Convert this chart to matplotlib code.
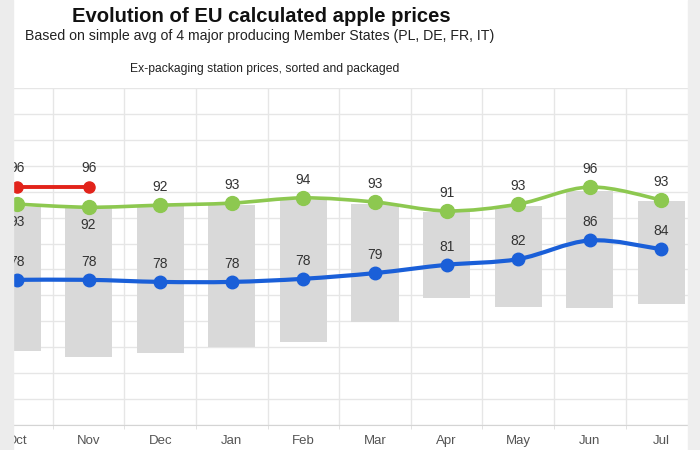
import numpy as np
import matplotlib.pyplot as plt
from matplotlib.path import Path
from matplotlib.patches import PathPatch, Rectangle
from matplotlib.ticker import MultipleLocator

plt.rcParams['font.family'] = ['Liberation Sans', 'DejaVu Sans']

months = ['Oct', 'Nov', 'Dec', 'Jan', 'Feb', 'Mar', 'Apr', 'May', 'Jun', 'Jul']
# ex-packaging price range (grey bars)
range_low = [64.3, 63.1, 63.9, 65.1, 66.0, 69.9, 74.5, 72.8, 72.6, 73.4]
range_high = [92.0, 91.8, 92.2, 92.4, 93.4, 92.6, 91.0, 92.3, 95.2, 93.2]
# calculated prices
green_prices = [92.6, 92.0, 92.4, 92.8, 93.8, 93.0, 91.3, 92.6, 95.9, 93.4]
blue_prices = [78.0, 78.0, 77.6, 77.6, 78.2, 79.3, 80.9, 82.0, 85.6, 83.9]
red_prices = [96.0, 96.0]

GREEN = '#8dc850'
BLUE = '#1a5fd8'
RED = '#e2231a'


def smooth_path(x, y):
    """Excel-style smoothed line as a cubic bezier path"""
    pts = np.column_stack([x, y]).astype(float)
    n = len(pts)
    verts = [pts[0]]
    codes = [Path.MOVETO]
    for i in range(n - 1):
        p0 = pts[max(i - 1, 0)]
        p1 = pts[i]
        p2 = pts[i + 1]
        p3 = pts[min(i + 2, n - 1)]
        c1 = p1 + (p2 - p0) / 6.0
        c2 = p2 - (p3 - p1) / 6.0
        verts += [c1, c2, p2]
        codes += [Path.CURVE4] * 3
    return Path(verts, codes)


fig = plt.figure(figsize=(7, 4.5), dpi=100)
W, H = 700.0, 450.0
x0_px, x1_px, y_top, y_bot = 13, 688, 88, 425
step = 71.6
ax = fig.add_axes([x0_px / W, 1 - y_bot / H, (x1_px - x0_px) / W, (y_bot - y_top) / H])

x = np.arange(len(months))
ax.set_xlim(-(17 - x0_px) / step, (x1_px - 17) / step)
ax.set_ylim(50, 115)

bottoms = np.array(range_low)
heights = np.array(range_high) - bottoms
ax.bar(x, heights, bottom=bottoms, width=0.66, color='#d9d9d9', zorder=1)

ax.add_patch(PathPatch(smooth_path(x, green_prices), fill=False, edgecolor=GREEN, lw=2.6, zorder=3))
ax.plot(x, green_prices, 'o', color=GREEN, ms=10, zorder=4)
ax.add_patch(PathPatch(smooth_path(x, blue_prices), fill=False, edgecolor=BLUE, lw=3, zorder=3))
ax.plot(x, blue_prices, 'o', color=BLUE, ms=9, zorder=4)
ax.plot(x[:len(red_prices)], red_prices, '-o', color=RED, lw=2.8, ms=8, zorder=4)

lab = dict(ha='center', fontsize=10, color='#333333', zorder=5)
for i, v in enumerate(green_prices):
    if i < len(red_prices):
        ax.annotate(f'{v:.0f}', (x[i], v), xytext=(0, -8), textcoords='offset points', va='top', **lab)
    else:
        ax.annotate(f'{v:.0f}', (x[i], v), xytext=(0, 8), textcoords='offset points', va='bottom', **lab)
for i, v in enumerate(blue_prices):
    ax.annotate(f'{v:.0f}', (x[i], v), xytext=(0, 8), textcoords='offset points', va='bottom', **lab)
for i, v in enumerate(red_prices):
    ax.annotate(f'{v:.0f}', (x[i], v), xytext=(0, 8), textcoords='offset points', va='bottom', **lab)

ax.yaxis.set_major_locator(MultipleLocator(5))
ax.set_yticklabels([])
ax.tick_params(axis='y', length=0)
ax.set_xticks(x)
ax.set_xticklabels(months, fontsize=9.5, color='#555555')
ax.tick_params(axis='x', length=0, pad=7)
ax.set_xticks(x[:-1] + 0.5, minor=True)
ax.tick_params(axis='x', which='minor', length=3, color='#dddddd')
ax.grid(axis='y', color='#e6e6e6', lw=1, zorder=0)
ax.grid(axis='x', which='minor', color='#e6e6e6', lw=1, zorder=0)
ax.set_axisbelow(True)
for s in ['left', 'right', 'top']:
    ax.spines[s].set_visible(False)
ax.spines['bottom'].set_color('#d4d4d4')

fig.text(261 / W, 1 - 17 / H, 'Evolution of EU calculated apple prices', ha='center', va='center',
         fontsize=14.6, fontweight='bold', color='#111111')
fig.text(260 / W, 1 - 36 / H, 'Based on simple avg of 4 major producing Member States (PL, DE, FR, IT)',
         ha='center', va='center', fontsize=10.2, color='#222222')
fig.text(265 / W, 1 - 69 / H, 'Ex-packaging station prices, sorted and packaged', ha='center', va='center',
         fontsize=8.75, color='#222222')

# grey page edges of the screenshot
fig.patches.append(Rectangle((0, 0), x0_px / W, 1, transform=fig.transFigure, color='#ececec', zorder=10))
fig.patches.append(Rectangle((x1_px / W, 0), 1 - x1_px / W, 1, transform=fig.transFigure, color='#eeeeee', zorder=10))

fig.savefig('out.png', dpi=100)
